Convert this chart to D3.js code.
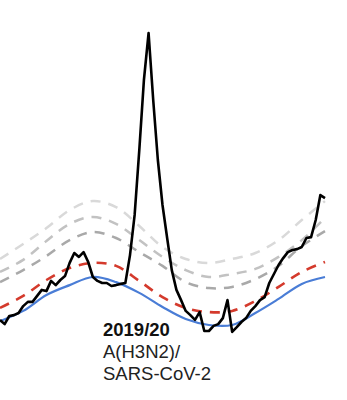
<!DOCTYPE html>
<html>
<head>
<meta charset="utf-8">
<script src="https://cdn.jsdelivr.net/npm/d3@7"></script>
<style>
  body { margin: 0; background: #fff; }
  svg { display: block; }
</style>
</head>
<body>
<svg id="chart" width="347" height="400"></svg>
<script>
// weekly observed values (season 2019/20)
const observed = [
  6.7, 5.3, 8.0, 8.3, 9.0, 11.3, 12.7, 12.7, 14.7, 16.7,
  16.3, 19.7, 18.3, 20.0, 21.3, 25.7, 29.0, 27.7, 29.3, 26.0,
  21.0, 19.7, 19.0, 19.0, 18.0, 18.3, 18.7, 19.0, 28.3, 41.7,
  63.3, 86.7, 102.3, 80.0, 60.0, 45.0, 34.0, 23.3, 16.7, 13.3,
  9.7, 8.3, 6.7, 9.3, 3.0, 3.0, 4.7, 5.3, 7.3, 13.3,
  2.7, 4.3, 6.0, 7.3, 9.7, 11.3, 13.3, 14.3, 19.0, 22.0,
  25.0, 27.3, 29.3, 30.0, 30.3, 31.0, 34.0, 34.3, 40.0, 48.3,
  47.3
];

// smooth reference curves, read every 5 weeks
const curveWeeks = [0, 5, 10, 15, 20, 25, 30, 35, 40, 45, 50, 55, 60, 65, 70];
const baseline  = [6.3, 9.7, 15.0, 18.3, 21.0, 19.3, 15.7, 11.0, 7.0, 5.0, 5.0, 9.0, 13.7, 18.7, 21.0];
const threshold = [10.7, 14.7, 20.0, 24.0, 25.7, 24.7, 19.7, 14.3, 10.7, 9.3, 9.7, 13.0, 17.7, 22.7, 26.0];
const band1     = [19.3, 23.3, 28.0, 33.3, 36.0, 34.0, 29.3, 24.7, 19.3, 17.3, 17.7, 20.3, 24.7, 31.3, 36.3];
const band2     = [22.7, 26.7, 33.0, 38.7, 41.0, 38.7, 33.3, 27.7, 23.3, 21.0, 22.0, 23.7, 27.7, 33.3, 40.7];
const band3     = [27.0, 32.0, 37.3, 43.3, 46.3, 44.3, 38.0, 31.0, 27.0, 25.7, 27.0, 29.0, 33.3, 40.0, 46.3];

const labelLines = ["2019/20", "A(H3N2)/", "SARS-CoV-2"];

const svg = d3.select("#chart");

const x = d3.scaleLinear().domain([0, 70]).range([0, 325]);
const y = d3.scaleLinear().domain([0, 100]).range([340, 40]);

const smooth = d3.line()
  .x((d, i) => x(curveWeeks[i]))
  .y(d => y(d))
  .curve(d3.curveCatmullRom);

const jagged = d3.line()
  .x((d, i) => x(i))
  .y(d => y(d));

// dashed grey bands, lightest first
const bands = [
  { data: band3, color: "#d9d9d9" },
  { data: band2, color: "#c2c2c2" },
  { data: band1, color: "#a9a9a9" }
];
bands.forEach(b => {
  svg.append("path")
    .attr("d", smooth(b.data))
    .attr("fill", "none")
    .attr("stroke", b.color)
    .attr("stroke-width", 2.5)
    .attr("stroke-dasharray", "10,8");
});

// threshold
svg.append("path")
  .attr("d", smooth(threshold))
  .attr("fill", "none")
  .attr("stroke", "#d43a2c")
  .attr("stroke-width", 2.6)
  .attr("stroke-dasharray", "10,8");

// baseline
svg.append("path")
  .attr("d", smooth(baseline))
  .attr("fill", "none")
  .attr("stroke", "#4a7dd6")
  .attr("stroke-width", 2.2);

// observed
svg.append("path")
  .attr("d", jagged(observed))
  .attr("fill", "none")
  .attr("stroke", "#000")
  .attr("stroke-width", 2.6)
  .attr("stroke-linejoin", "round");

// label
const label = svg.append("text")
  .attr("x", 103)
  .attr("y", 336)
  .attr("font-family", "'Liberation Sans', Arial, sans-serif")
  .attr("font-size", 18.5)
  .attr("fill", "#222");

label.selectAll("tspan")
  .data(labelLines)
  .enter()
  .append("tspan")
  .attr("x", 103)
  .attr("dy", (d, i) => i === 0 ? 0 : 22)
  .attr("font-weight", (d, i) => i === 0 ? "bold" : "normal")
  .attr("fill", (d, i) => i === 0 ? "#111" : "#222")
  .text(d => d);
</script>
</body>
</html>
